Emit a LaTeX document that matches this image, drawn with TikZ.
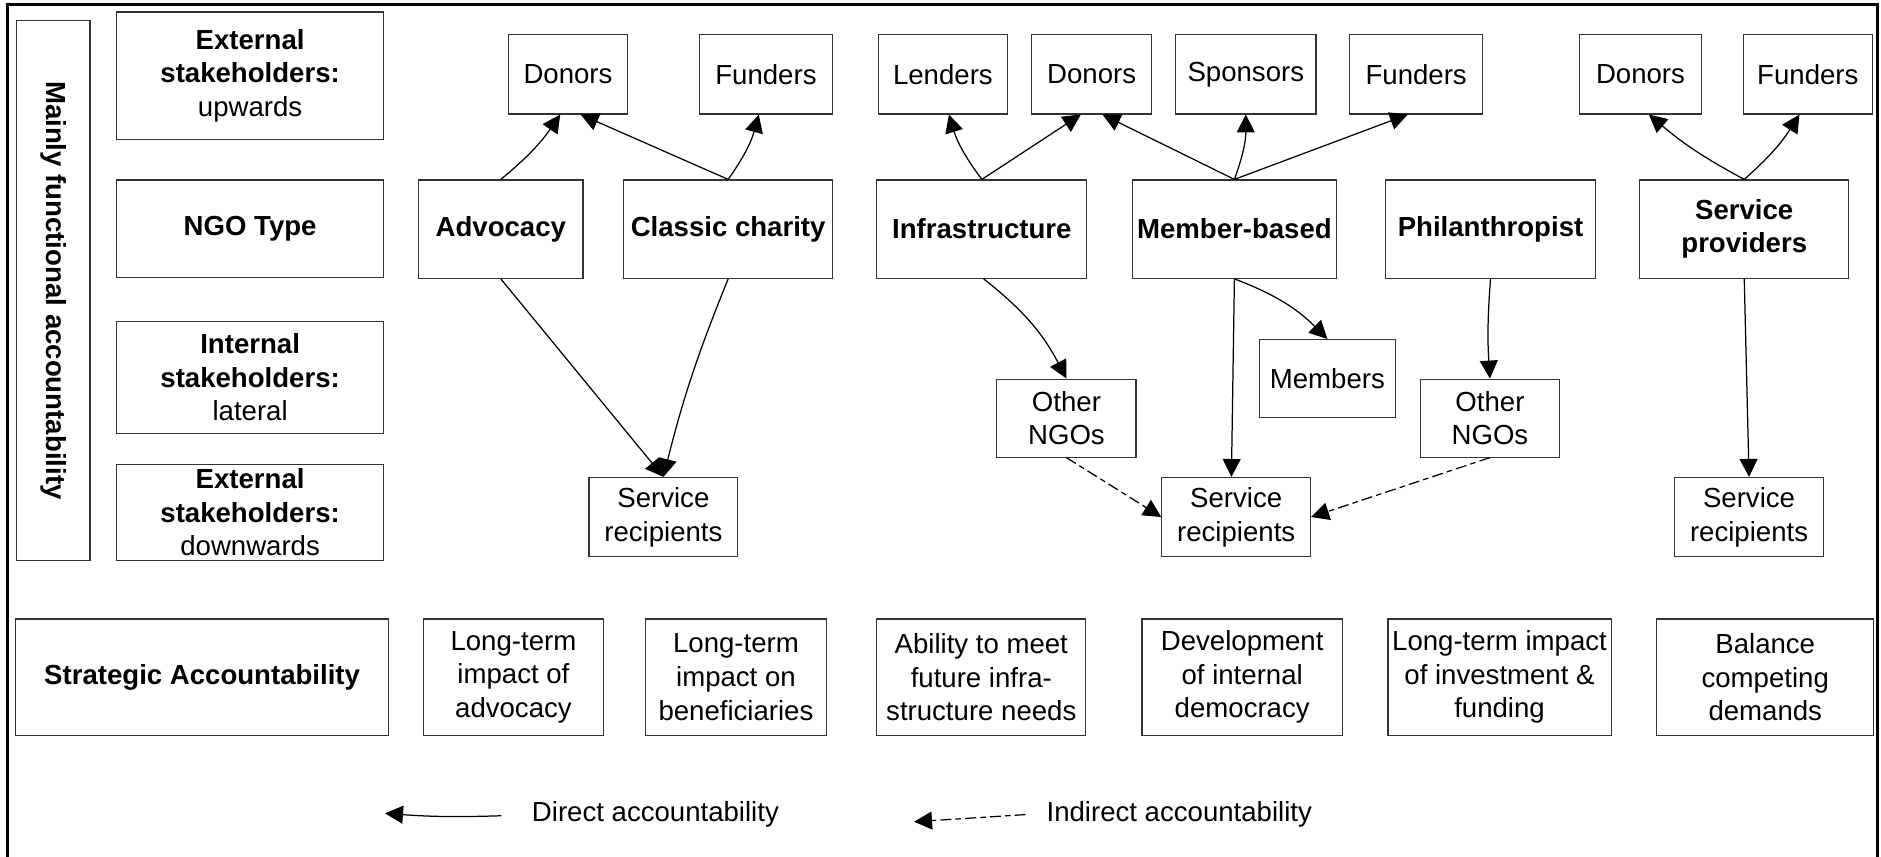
\documentclass[tikz,border=0pt]{standalone}
\usepackage{fontspec}
\setmainfont{Liberation Sans}
\usetikzlibrary{arrows.meta}
\tikzset{>={Triangle[length=6.5pt,width=6.5pt]}}
% one unit = one pixel of the layout grid
\newcommand{\pxu}{0.4348pt}
\tikzset{
  ngobox/.style 2 args={draw=black!80, line width=0.4pt, align=center, inner sep=1pt,
    minimum width=#1*\pxu, minimum height=#2*\pxu},
  acc/.style={->, line width=0.45pt},
  indacc/.style={->, line width=0.45pt, dash pattern=on 4pt off 1.5pt on 2pt off 1.5pt},
}

\begin{document}
\begin{tikzpicture}[x=\pxu, y=-\pxu, font=\fontsize{10}{12.2}\selectfont]
    \useasboundingbox (0,0) rectangle (1568,714);
    % outer frame, open at the bottom
    \draw[line width=1.2pt] (6,714) -- (6,4) -- (1565,4) -- (1565,714);

    % row headers
    \node[ngobox={450}{61}, rotate=-90, font=\fontsize{10}{12}\selectfont\bfseries] (mainly) at (44.5,242) {Mainly functional accountability};
    \node[ngobox={223}{106}] (hUp) at (208.5,63) {\textbf{External}\\\textbf{stakeholders:}\\upwards};
    \node[ngobox={223}{81}, font=\fontsize{10}{12}\selectfont\bfseries] (hType) at (208.5,190.5) {NGO Type};
    \node[ngobox={223}{93}] (hLat) at (208.5,314.5) {\textbf{Internal}\\\textbf{stakeholders:}\\lateral};
    \node[ngobox={223}{80}] (hDown) at (208.5,427) {\textbf{External}\\\textbf{stakeholders:}\\downwards};
    \node[ngobox={311}{97}, font=\fontsize{10}{12}\selectfont\bfseries] (hStrat) at (168.5,564.5) {Strategic Accountability};

    % upwards stakeholders
    \node[ngobox={99}{66}] (donorsA) at (473.5,62) {Donors};
    \node[ngobox={111}{66}] (fundersA) at (638.5,62) {Funders};
    \node[ngobox={108}{66}] (lenders) at (786,62) {Lenders};
    \node[ngobox={100}{66}] (donorsB) at (910,62) {Donors};
    \node[ngobox={117}{66}] (sponsors) at (1038.5,62) {Sponsors};
    \node[ngobox={111}{66}] (fundersB) at (1180.5,62) {Funders};
    \node[ngobox={101}{66}] (donorsC) at (1367.5,62) {Donors};
    \node[ngobox={108}{66}] (fundersC) at (1507,62) {Funders};

    % NGO types
    \begin{scope}[font=\fontsize{10}{12}\selectfont\bfseries]
        \node[ngobox={137}{82}] (advocacy) at (417.5,191) {Advocacy};
        \node[ngobox={174}{82}] (charity) at (607,191) {Classic charity};
        \node[ngobox={175}{82}] (infra) at (818.5,191) {Infrastructure};
        \node[ngobox={170}{82}] (member) at (1029,191) {Member-based};
        \node[ngobox={175}{82}] (philan) at (1242.5,191) {Philanthropist};
        \node[ngobox={174}{82}] (provider) at (1454,191) {Service\\providers};
    \end{scope}

    % lateral and downwards stakeholders
    \node[ngobox={116}{65}] (otherA) at (889,348.5) {Other\\NGOs};
    \node[ngobox={113}{65}] (members) at (1106.5,315.5) {Members};
    \node[ngobox={116}{65}] (otherB) at (1242,348.5) {Other\\NGOs};
    \node[ngobox={124}{66}] (recipA) at (553,431) {Service\\recipients};
    \node[ngobox={124}{66}] (recipB) at (1030.5,431) {Service\\recipients};
    \node[ngobox={124}{66}] (recipC) at (1458,431) {Service\\recipients};

    % strategic accountability
    \node[ngobox={150}{97}] (stratA) at (428,564.5) {Long-term\\impact of\\advocacy};
    \node[ngobox={151}{97}] (stratB) at (613.5,564.5) {Long-term\\impact on\\beneficiaries};
    \node[ngobox={174}{97}] (stratC) at (818,564.5) {Ability to meet\\future infra-\\structure needs};
    \node[ngobox={167}{97}] (stratD) at (1035.5,564.5) {Development\\of internal\\democracy};
    \node[ngobox={186}{97}] (stratE) at (1250,564.5) {Long-term impact\\of investment \&\\funding};
    \node[ngobox={181}{97}] (stratF) at (1471.5,564.5) {Balance\\competing\\demands};

    % upwards
    \draw[acc] (advocacy.north) to[bend right=8] ([xshift=-6.5*\pxu]donorsA.south);
    \draw[acc] (charity.north) -- ([xshift=10.5*\pxu]donorsA.south);
    \draw[acc] (charity.north) to[bend right=10] ([xshift=-6*\pxu]fundersA.south);
    \draw[acc] (infra.north) to[bend left=10] ([xshift=5*\pxu]lenders.south);
    \draw[acc] (infra.north) -- ([xshift=-9*\pxu]donorsB.south);
    \draw[acc] (member.north) -- ([xshift=9*\pxu]donorsB.south);
    \draw[acc] (member.north) to[bend right=10] (sponsors.south);
    \draw[acc] (member.north) -- ([xshift=-7*\pxu]fundersB.south);
    \draw[acc] (provider.north) to[bend left=6] ([xshift=7*\pxu]donorsC.south);
    \draw[acc] (provider.north) to[bend right=8] ([xshift=-7*\pxu]fundersC.south);

    % downwards and lateral
    \draw[acc] (advocacy.south) -- (recipA.north);
    \draw[acc] (charity.south) to[bend right=4] (recipA.north);
    \draw[acc] ([xshift=1.5*\pxu]infra.south) to[bend left=12] (otherA.north);
    \draw[acc] (member.south) to[bend left=12] (members.north);
    \draw[acc] (member.south) -- ([xshift=-4*\pxu]recipB.north);
    \draw[acc] (philan.south) to[bend right=4] (otherB.north);
    \draw[acc] (provider.south) -- (recipC.north);
    \draw[indacc] (otherA.south) -- (recipB.west);
    \draw[indacc] (otherB.south) -- (recipB.east);

    % legend
    \coordinate (dirFrom) at (418,680);
    \coordinate (dirTo) at (321,678);
    \coordinate (indFrom) at (855,679);
    \coordinate (indTo) at (762,685);
    \draw[acc] (dirFrom) to[bend left=3] (dirTo);
    \draw[indacc] (indFrom) -- (indTo);
    \node[anchor=west, inner sep=0pt] (dirText) at (443,679) {Direct accountability};
    \node[anchor=west, inner sep=0pt] (indText) at (872,679) {Indirect accountability};
\end{tikzpicture}
\end{document}
